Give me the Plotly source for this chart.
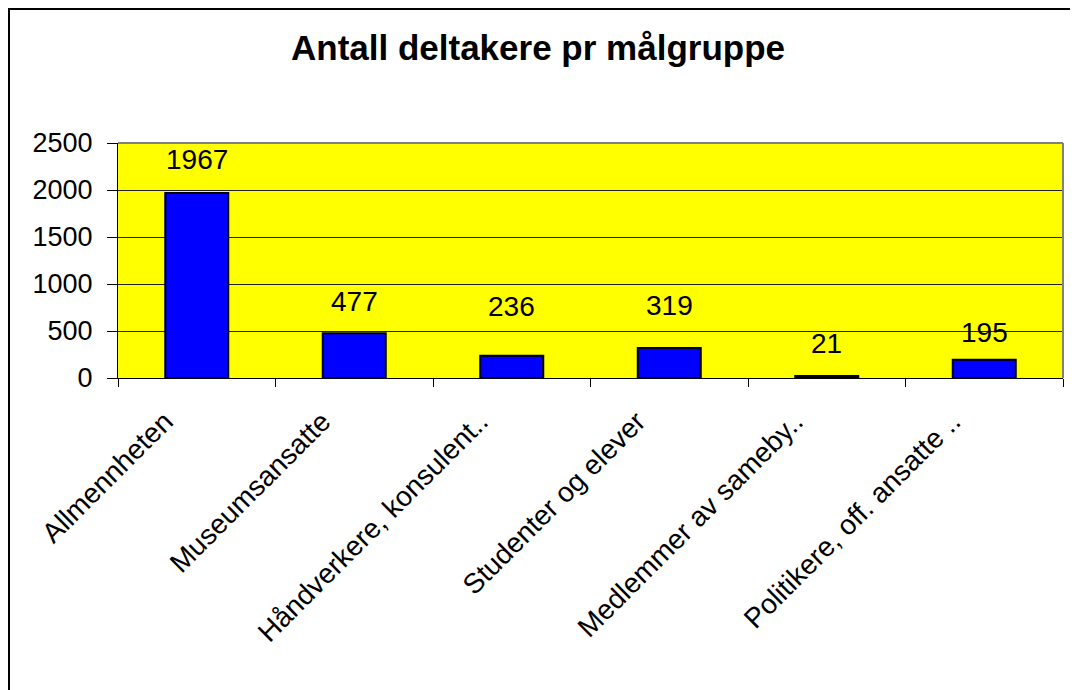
import plotly.graph_objects as go

categories = ["Allmennheten", "Museumsansatte", "Håndverkere, konsulent..",
              "Studenter og elever", "Medlemmer av sameby..", "Politikere, off. ansatte .."]
values = [1967, 477, 236, 319, 21, 195]
value_labels = ["1967", "477", "236", "319", "21", "195"]
label_yshift = [34, 32, 49, 43, 33, 27]  # pixel offsets of the data labels above bars
y_tick_vals = [0, 500, 1000, 1500, 2000, 2500]
title_text = "Antall deltakere pr målgruppe"

OFF = 8  # default page body margin
W, H = 1078 - OFF, 690 - OFF
L, T = 118 - OFF, 143 - OFF
R = W - (1063 - OFF)
B = H - (378 - OFF)
pw, ph = W - L - R, H - T - B

fig = go.Figure()
fig.add_trace(go.Bar(
    x=categories, y=values, width=0.4,
    marker=dict(color="#0000FF", line=dict(color="black", width=2)),
    hoverinfo="skip",
))

for c, v, t, s in zip(categories, values, value_labels, label_yshift):
    fig.add_annotation(x=c, y=v, text=t, showarrow=False, yshift=s,
                       font=dict(family="Liberation Sans, Arial", size=28, color="black"))

def fx(p):  # figure pixel -> paper x
    return (p - L) / pw

def fy(p):  # figure pixel -> paper y
    return (H - B - p) / ph

# outer chart border (left and top visible)
fig.add_shape(type="rect", xref="paper", yref="paper",
              x0=fx(1), x1=fx(W + 20), y0=fy(1), y1=fy(H + 20),
              line=dict(color="black", width=2), fillcolor="rgba(0,0,0,0)", layer="below")
# plot area gray border top/right
fig.add_shape(type="line", xref="paper", yref="paper", x0=0, x1=1, y0=1, y1=1,
              line=dict(color="#808080", width=2))
fig.add_shape(type="line", xref="paper", yref="paper", x0=1, x1=1, y0=0, y1=1,
              line=dict(color="#808080", width=2))

fig.update_layout(
    width=W, height=H,
    margin=dict(l=L, r=R, t=T, b=B, autoexpand=False),
    paper_bgcolor="white", plot_bgcolor="#FFFF00",
    showlegend=False, bargap=0.6,
    font=dict(family="Liberation Sans, Arial", size=27, color="black"),
    title=dict(text="<b>" + title_text + "</b>", x=(538 - OFF) / W, xanchor="center",
               y=1 - (48 - OFF) / H, yanchor="middle", yref="container",
               font=dict(family="Liberation Sans, Arial", size=35, color="black")),
    xaxis=dict(type="category", tickson="boundaries", ticks="outside", ticklen=8,
               tickcolor="black", tickwidth=1, showline=True, linecolor="black",
               linewidth=1, tickangle=-45, showgrid=False,
               tickfont=dict(size=28), ticklabelstandoff=15, ticklabelshift=-32),
    yaxis=dict(range=[0, 2500], tickvals=y_tick_vals, ticks="outside", ticklen=10,
               tickcolor="black", showline=True, linecolor="black", linewidth=1,
               showgrid=True, gridcolor="#202020", gridwidth=1, zeroline=False,
               tickfont=dict(size=27), ticklabelstandoff=9),
)

fig.write_html("out.html")
